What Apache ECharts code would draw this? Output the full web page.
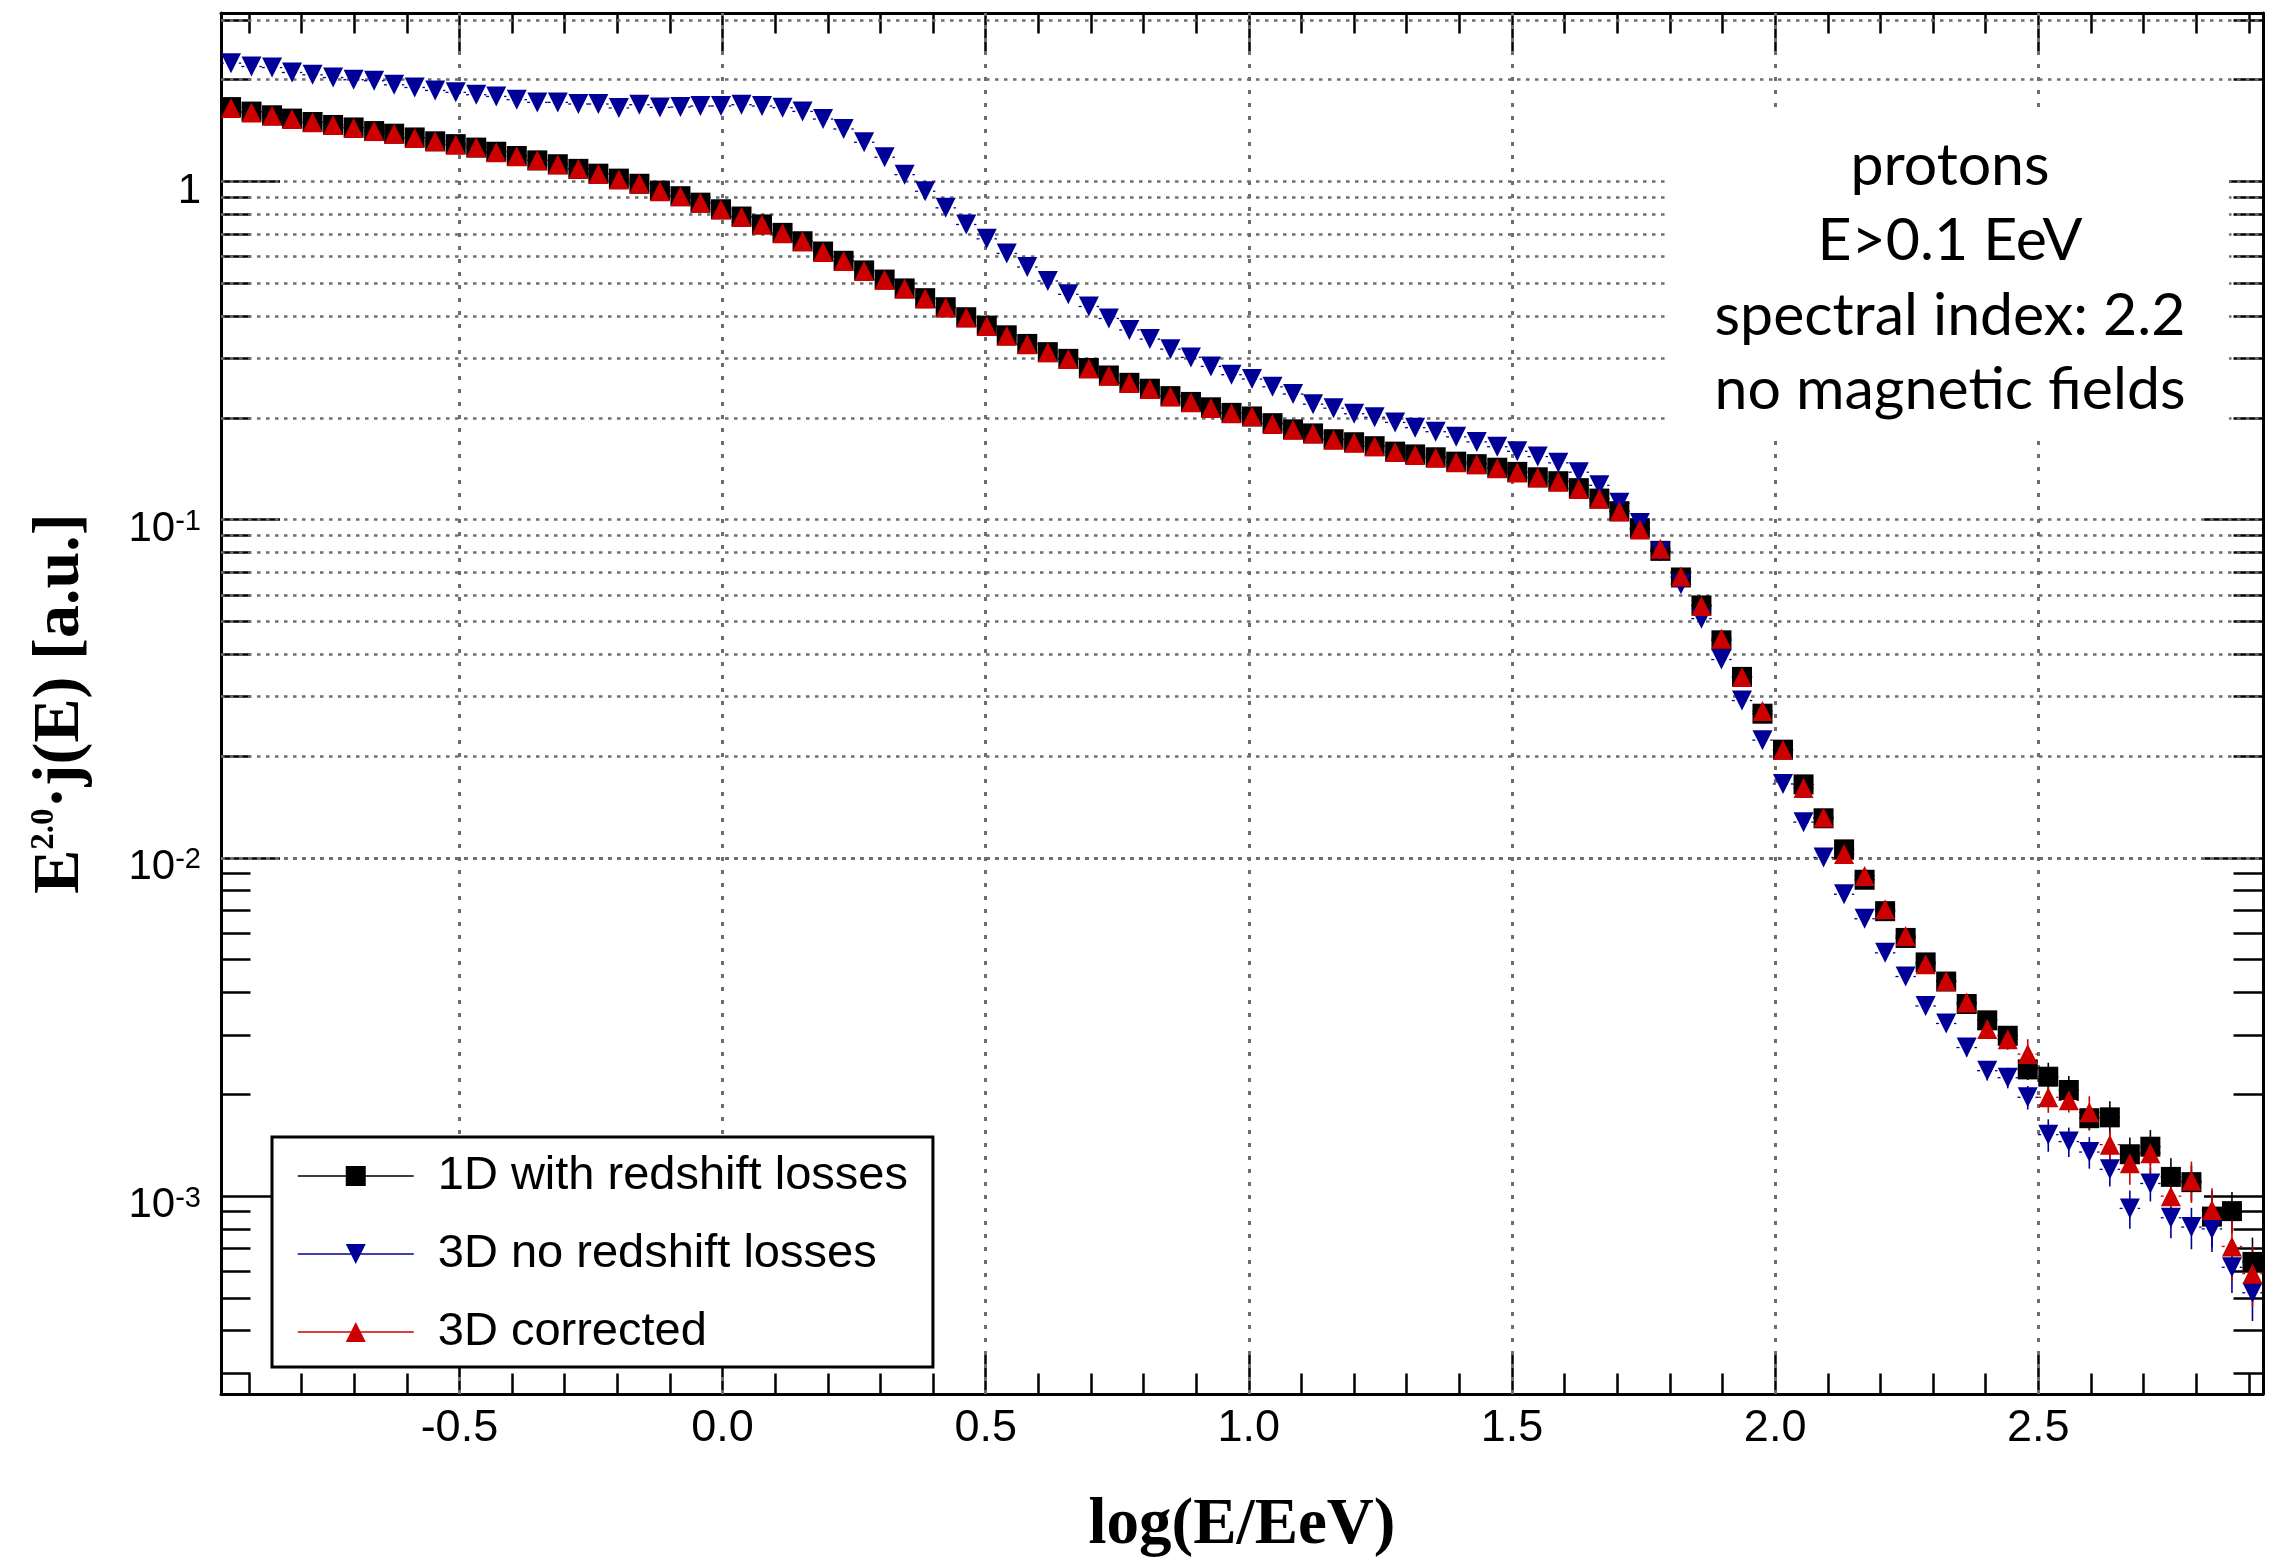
<!DOCTYPE html>
<html>
<head>
<meta charset="utf-8">
<script src="https://cdn.jsdelivr.net/npm/echarts@6/dist/echarts.min.js"></script>
<style>
html,body{margin:0;padding:0;background:#fff;}
#chart{width:2269px;height:1564px;}
</style>
</head>
<body>
<div id="chart"></div>
<script>
// ---------------- data ----------------
// bin centres, log10(E/EeV)
const xCenters = [
 -0.934,-0.895,-0.856,-0.818,-0.779,-0.740,-0.701,-0.662,-0.624,-0.585,
 -0.546,-0.507,-0.468,-0.430,-0.391,-0.352,-0.313,-0.274,-0.236,-0.197,
 -0.158,-0.119,-0.080,-0.042,-0.003,0.036,0.075,0.114,0.152,0.191,
 0.230,0.269,0.308,0.346,0.385,0.424,0.463,0.502,0.540,0.579,
 0.618,0.657,0.696,0.734,0.773,0.812,0.851,0.890,0.928,0.967,
 1.006,1.045,1.084,1.122,1.161,1.200,1.239,1.278,1.316,1.355,
 1.394,1.433,1.472,1.510,1.549,1.588,1.627,1.666,1.704,1.743,
 1.782,1.821,1.860,1.898,1.937,1.976,2.015,2.054,2.092,2.131,
 2.170,2.209,2.248,2.286,2.325,2.364,2.403,2.442,2.480,2.519,
 2.558,2.597,2.636,2.674,2.713,2.752,2.791,2.830,2.868,2.907
];
const binHalfWidth = 0.0194;

// 1D with redshift losses
const oneD = [
 1.66,1.61,1.57,1.535,1.50,1.47,1.445,1.41,1.385,1.35,
 1.315,1.29,1.26,1.225,1.19,1.155,1.125,1.09,1.055,1.02,
 0.985,0.94,0.905,0.866,0.828,0.788,0.747,0.705,0.666,0.621,
 0.583,0.546,0.513,0.483,0.452,0.425,0.397,0.375,0.351,0.331,
 0.313,0.299,0.281,0.267,0.254,0.244,0.232,0.223,0.215,0.207,
 0.202,0.193,0.185,0.180,0.173,0.1695,0.165,0.159,0.156,0.153,
 0.1485,0.146,0.1425,0.1385,0.1335,0.130,0.124,0.1155,0.106,0.0944,
 0.0809,0.0675,0.0558,0.044,0.0343,0.0267,0.0209,0.0165,0.0131,0.0106,
 0.00862,0.00696,0.0058,0.00491,0.00431,0.0037,0.00331,0.00298,0.00237,0.002255,
 0.00206,0.0017,0.00171,0.00133,0.0014,0.00114,0.0011,0.00087,0.000903,0.000639
];
// 3D no redshift losses
const threeDNoZ = [
 2.239,2.188,2.173,2.101,2.068,2.03,2.0,1.986,1.932,1.897,
 1.859,1.835,1.806,1.785,1.746,1.714,1.714,1.695,1.695,1.65,
 1.687,1.656,1.66,1.672,1.672,1.687,1.672,1.653,1.612,1.53,
 1.43,1.306,1.18,1.048,0.936,0.836,0.7465,0.677,0.613,0.5587,
 0.508,0.464,0.427,0.3936,0.364,0.342,0.3194,0.302,0.284,0.2684,
 0.2606,0.2472,0.2353,0.2196,0.2137,0.2058,0.2009,0.194,0.1872,0.1821,
 0.1758,0.1699,0.1644,0.1593,0.1537,0.1473,0.1382,0.1264,0.1122,0.0978,
 0.0806,0.0645,0.051,0.0386,0.0292,0.0223,0.01655,0.01276,0.01003,0.00781,
 0.00661,0.00524,0.00446,0.00365,0.00324,0.00275,0.00235,0.00224,0.00196,0.00152,
 0.00145,0.00135,0.0012,0.00092,0.00109,0.000863,0.00081,0.0008,0.000616,0.000518
];
// 3D corrected
const threeDCorr = [
 1.65,1.60,1.566,1.53,1.496,1.47,1.44,1.41,1.385,1.345,
 1.315,1.285,1.262,1.22,1.188,1.156,1.122,1.09,1.053,1.014,
 0.986,0.936,0.905,0.865,0.827,0.786,0.746,0.703,0.666,0.619,
 0.582,0.544,0.512,0.4825,0.451,0.424,0.396,0.374,0.35,0.3305,
 0.3125,0.2985,0.280,0.2665,0.2535,0.2434,0.2316,0.2225,0.214,0.2064,
 0.2022,0.192,0.1846,0.180,0.1725,0.169,0.165,0.1586,0.1555,0.1525,
 0.148,0.146,0.142,0.138,0.1333,0.1296,0.1233,0.1153,0.1057,0.0935,
 0.0821,0.0679,0.0556,0.0445,0.0343,0.0272,0.0209,0.0161,0.01316,0.01027,
 0.00885,0.00705,0.00588,0.00485,0.00433,0.00374,0.00312,0.00291,0.00263,0.00196,
 0.00192,0.00177,0.00142,0.00125,0.00134,0.0010,0.00111,0.00091,0.00071,0.00059
];
// relative statistical errors of the last bins (from bin index errStart on)
const errStart = 80;
const oneDErr     = [0.03,0.03,0.035,0.04,0.045,0.05,0.055,0.06,0.07,0.10,0.10,0.08,0.115,0.12,0.12,0.135,0.12,0.19,0.14,0.18];
const threeDNoZErr = [0.04,0.04,0.045,0.05,0.055,0.06,0.065,0.07,0.08,0.11,0.10,0.107,0.11,0.13,0.115,0.13,0.14,0.145,0.16,0.175];
const threeDCorrErr = [0.035,0.035,0.04,0.045,0.05,0.055,0.06,0.07,0.107,0.10,0.08,0.115,0.10,0.135,0.125,0.14,0.14,0.16,0.21,0.20];

const seriesNames = ['1D with redshift losses','3D no redshift losses','3D corrected'];
const annotationLines = ['protons','E>0.1 EeV','spectral index: 2.2','no magnetic fields'];

// axes
const xMin = -0.953, xMax = 2.927;
const yMin = 2.6e-4, yMax = 3.15;
const xMajorTicks = [-0.5,0.0,0.5,1.0,1.5,2.0,2.5];
const xMinorTicks = [-0.9,-0.8,-0.7,-0.6,-0.4,-0.3,-0.2,-0.1,0.1,0.2,0.3,0.4,0.6,0.7,0.8,0.9,
                     1.1,1.2,1.3,1.4,1.6,1.7,1.8,1.9,2.1,2.2,2.3,2.4,2.6,2.7,2.8,2.9];
const yDecades = [-3,-2,-1,0];           // labelled powers of ten
const yMinorDecades = [-4,-3,-2,-1,0];
const yMinorMult = [2,3,4,5,6,7,8,9];

// ---------------- build ----------------
const lyMin = Math.log10(yMin), lyMax = Math.log10(yMax);
const yMinorLog = [];
yMinorDecades.forEach(e => yMinorMult.forEach(m => {
  const lv = Math.log10(m) + e;
  if (lv > lyMin && lv < lyMax) yMinorLog.push(lv);
}));
const yAllLog = yDecades.concat(yMinorLog);

const FONT = 'Liberation Sans';
const SERIF = 'Liberation Serif';
const gridDots = '#6e6e6e';

const gridMarks = []
  .concat(xMajorTicks.map(v => ({xAxis: v, lineStyle: {type: [4, 9], width: 3, color: gridDots}})))
  .concat(yAllLog.map(lv => ({yAxis: Math.pow(10, lv), lineStyle: {type: [3.5, 5.5], width: 2.5, color: gridDots}})));

function errSeries(vals, errs, color) {
  return {
    type: 'custom', xAxisIndex: 0, yAxisIndex: 0, z: 3, silent: true, animation: false, clip: true,
    data: xCenters.map((x, i) => [x, vals[i], i >= errStart ? errs[i - errStart] : 0]),
    renderItem: function (params, api) {
      const x = api.value(0), y = api.value(1), r = api.value(2);
      const c = api.coord([x, y]);
      const l = api.coord([x - binHalfWidth, y]);
      const rr = api.coord([x + binHalfWidth, y]);
      const children = [{
        type: 'line', shape: {x1: l[0], y1: c[1], x2: rr[0], y2: c[1]},
        style: {stroke: color, lineWidth: 1.3, lineDash: [3, 3]}
      }];
      if (r > 0) {
        const t = api.coord([x, y * (1 + r)]), b = api.coord([x, y * (1 - r)]);
        children.push({type: 'line', shape: {x1: c[0], y1: t[1], x2: c[0], y2: b[1]},
          style: {stroke: color, lineWidth: 1.6}});
      }
      return {type: 'group', children: children};
    }
  };
}
function markerSeries(name, vals, color, symbol, extra) {
  const s = {
    type: 'line', name: name, xAxisIndex: 0, yAxisIndex: 0, z: 3,
    data: xCenters.map((x, i) => [x, vals[i]]),
    symbol: symbol, symbolSize: 20, showSymbol: true, showAllSymbol: true,
    lineStyle: {width: 0, opacity: 0, color: color},
    itemStyle: {color: color, opacity: 1},
    emphasis: {disabled: true}, silent: true, animation: false, clip: true
  };
  return Object.assign(s, extra || {});
}

const xTickAxis = (pos, vals, len, showLine, showLabel) => ({
  type: 'value', min: xMin, max: xMax, position: pos, gridIndex: 0,
  axisLine: {show: showLine, onZero: false, lineStyle: {color: '#000', width: 3}},
  axisTick: {show: true, inside: true, length: len, customValues: vals, lineStyle: {color: '#000', width: 2.5}},
  axisLabel: showLabel ? {show: true, customValues: vals, formatter: v => v.toFixed(1),
      fontSize: 45, fontFamily: FONT, color: '#000', margin: 12} : {show: false},
  splitLine: {show: false}, minorTick: {show: false}
});
const yTickAxis = (pos, vals, len, showLine, showLabel) => ({
  type: 'value', min: lyMin, max: lyMax, position: pos, gridIndex: 0,
  axisLine: {show: showLine, onZero: false, lineStyle: {color: '#000', width: 3}},
  axisTick: {show: true, inside: true, length: len, customValues: vals, lineStyle: {color: '#000', width: 2.5}},
  axisLabel: showLabel ? {
      show: true, customValues: vals, margin: 20, color: '#000',
      formatter: v => (Math.round(v) === 0 ? '{n|1}' : '{n|10}{s|' + Math.round(v) + '}'),
      rich: {
        n: {fontSize: 42, fontFamily: FONT, color: '#000', lineHeight: 56, padding: [19, 0, 0, 0]},
        s: {fontSize: 29, fontFamily: FONT, color: '#000', lineHeight: 30, verticalAlign: 'top', padding: [16, 0, 0, 0]}
      }} : {show: false},
  splitLine: {show: false}, minorTick: {show: false}
});

const xAxes = [
  Object.assign(xTickAxis('bottom', xMajorTicks, 41, true, true), {
    name: 'log(E/EeV)', nameLocation: 'middle', nameGap: 100,
    nameTextStyle: {fontFamily: SERIF, fontWeight: 'bold', fontSize: 65, color: '#000'}
  }),
  xTickAxis('bottom', xMinorTicks, 20.5, false, false),
  xTickAxis('top', xMajorTicks, 41, true, false),
  xTickAxis('top', xMinorTicks, 20.5, false, false)
];
const yAxes = [
  {
    type: 'log', logBase: 10, min: yMin, max: yMax, position: 'left', gridIndex: 0,
    axisLine: {show: true, onZero: false, lineStyle: {color: '#000', width: 3}},
    axisTick: {show: false}, axisLabel: {show: false}, splitLine: {show: false},
    name: '{b|E}{s|2.0}{b|\u00b7j(E) [a.u.]}', nameLocation: 'middle', nameGap: 127, nameRotate: 90,
    nameTextStyle: {
      color: '#000',
      rich: {
        b: {fontFamily: SERIF, fontWeight: 'bold', fontSize: 66, lineHeight: 66, padding: [16.5, 0, 0, 0], verticalAlign: 'bottom', color: '#000'},
        s: {fontFamily: SERIF, fontWeight: 'bold', fontSize: 33, lineHeight: 33, verticalAlign: 'top', color: '#000'}
      }
    }
  },
  yTickAxis('left', yDecades, 59, false, true),
  yTickAxis('left', yMinorLog, 29.5, false, false),
  yTickAxis('right', yDecades, 59, true, false),
  yTickAxis('right', yMinorLog, 29.5, false, false)
];

const colBlack = '#000000', colBlue = '#000099', colRed = '#cc0000';
const downTriangle = 'path://M0,0L10,0L5,10Z';

const option = {
  animation: false,
  backgroundColor: '#ffffff',
  grid: {left: 221, top: 13, width: 2042, height: 1384, containLabel: false},
  xAxis: xAxes,
  yAxis: yAxes,
  legend: {
    orient: 'vertical', left: 272, top: 1137,
    itemWidth: 116, itemHeight: 25, itemGap: 28,
    padding: [14, 25, 10, 25],
    backgroundColor: '#ffffff', borderColor: '#000', borderWidth: 3, borderRadius: 0,
    selectedMode: false, z: 10,
    textStyle: {fontSize: 47, fontFamily: FONT, color: '#000', lineHeight: 50, padding: [0, 0, 0, 19]},
    lineStyle: {width: 1.5, opacity: 1},
    data: [
      {name: seriesNames[0], lineStyle: {color: colBlack, width: 1.5, opacity: 1}},
      {name: seriesNames[1], lineStyle: {color: colBlue, width: 1.5, opacity: 1}},
      {name: seriesNames[2], lineStyle: {color: colRed, width: 1.5, opacity: 1}}
    ]
  },
  graphic: [
    {type: 'rect', z: 2, silent: true, shape: {x: 1669, y: 110, width: 560, height: 327}, style: {fill: '#fff'}},
    {type: 'text', z: 2, silent: true, x: 1950, y: 129,
      style: {text: annotationLines.join('\n'), align: 'center', verticalAlign: 'top',
        fontSize: 59, fontFamily: 'Lato', lineHeight: 74.7, fill: '#000'}}
  ],
  series: [
    errSeries(oneD, oneDErr, colBlack),
    markerSeries(seriesNames[0], oneD, colBlack, 'rect', {
      markLine: {silent: true, z: 1, animation: false, symbol: ['none', 'none'], label: {show: false},
        emphasis: {disabled: true}, data: gridMarks}
    }),
    errSeries(threeDNoZ, threeDNoZErr, colBlue),
    markerSeries(seriesNames[1], threeDNoZ, colBlue, downTriangle),
    errSeries(threeDCorr, threeDCorrErr, colRed),
    markerSeries(seriesNames[2], threeDCorr, colRed, 'triangle')
  ]
};

const chart = echarts.init(document.getElementById('chart'), null, {renderer: 'canvas', width: 2269, height: 1564});
chart.setOption(option);
</script>
</body>
</html>
